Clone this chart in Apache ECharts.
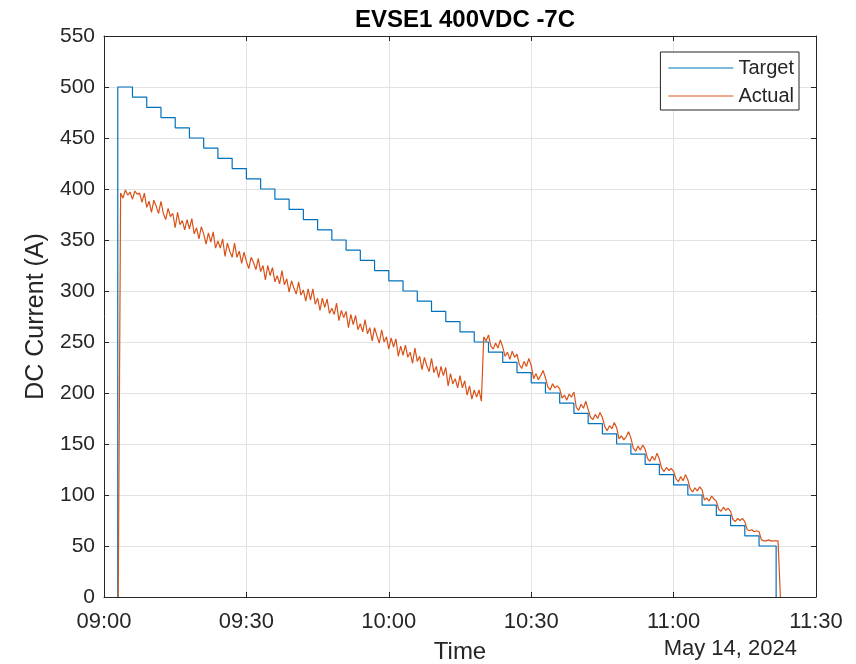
<!DOCTYPE html>
<html>
<head>
<meta charset="utf-8">
<script src="https://cdn.jsdelivr.net/npm/echarts@6/dist/echarts.min.js"></script>
<style>
  html, body { margin: 0; padding: 0; background: #fff; }
  #main { width: 856px; height: 664px; }
</style>
</head>
<body>
<div id="main"></div>
<script>
// minutes after 09:00
const xTicks = [0, 30, 60, 90, 120, 150];

// target current: step points (value holds from that minute on)
const targetMin = [2.9, 2.9, 6, 9, 12, 15, 18, 21, 24, 27, 30, 33, 36, 39, 42, 45, 48, 51, 54, 57, 60,
  63, 66, 69, 72, 75, 78, 81, 84, 87, 90, 93, 96, 99, 102, 105, 108, 111, 114, 117, 120,
  123, 126, 129, 132, 135, 138, 141.6];
const targetAmp = [0, 500, 490, 480, 470, 460, 450, 440, 430, 420, 410, 400, 390, 380, 370, 360, 350,
  340, 330, 320, 310, 300, 290, 280, 270, 260, 250, 240, 230, 220, 210, 200, 190, 180, 170,
  160, 150, 140, 130, 120, 110, 100, 90, 80, 70, 60, 50, 0];

// actual current, sampled every half minute from 09:03
const actualStart = 3.0;
const actualDt = 0.5;
const actualAmp = [
  0,
  396, 391, 399, 394, 397, 390, 398, 395,
  396, 387, 396, 382, 388, 377, 389, 383, 376, 388,
  376, 370, 381, 373, 376, 362, 377, 365, 369, 360,
  370, 361, 371, 356, 362, 351, 363, 356, 346, 357,
  348, 358, 342, 349, 342, 351, 334, 347, 339, 333,
  347, 333, 339, 327, 338, 329, 322, 333, 328, 321,
  332, 319, 325, 311, 325, 315, 323, 309, 315, 307,
  320, 306, 312, 299, 310, 303, 297, 309, 296, 301,
  290, 302, 291, 302, 287, 293, 281, 293, 284, 292,
  278, 283, 277, 288, 271, 281, 274, 280, 264, 277,
  267, 276, 262, 268, 260, 272, 258, 264, 251, 264,
  256, 249, 262, 250, 255, 243, 254, 245, 253, 236,
  246, 237, 247, 235, 240, 229, 244, 231, 236, 223,
  235, 227, 221, 234, 220, 226, 215, 226, 217, 225,
  207, 219, 209, 214, 205, 217, 205, 212, 198, 207,
  194, 203, 196, 203, 192,
  255, 251, 257,
  246, 243, 249, 244, 252, 245,
  236, 240, 233, 241, 235, 238,
  228, 224, 231, 226, 234, 227,
  214, 219, 213, 217, 222, 215,
  206, 203, 209, 205, 207, 204,
  195, 198, 193, 199, 196, 201,
  186, 183, 189, 185, 192, 184,
  176, 174, 179, 175, 181, 176,
  167, 163, 168, 165, 171, 166,
  155, 158, 154, 157, 162, 156,
  146, 143, 148, 144, 149, 145,
  136, 133, 138, 134, 141, 135,
  126, 123, 127, 124, 126, 123,
  116, 113, 118, 114, 120, 115,
  106, 103, 107, 104, 108, 105,
  95, 97, 94, 99, 96, 94,
  86, 84, 88, 85, 87, 84,
  76, 74, 77, 75, 77, 74,
  66, 65, 66, 64, 65, 64,
  56, 55, 55, 56, 55, 55, 55, 55,
  0
];

const FONT = "'Liberation Sans', Arial, sans-serif";
const INK = '#262626';
const GRIDC = '#e3e3e3';

const targetData = targetMin.map((t, i) => [t, targetAmp[i]]);
const actualData = actualAmp.map((v, i) => [actualStart + i * actualDt, v]);

function clock(m) {
  const h = 9 + Math.floor(m / 60);
  const mm = m % 60;
  return String(h).padStart(2, '0') + ':' + String(mm).padStart(2, '0');
}

const tick = { show: true, inside: true, length: 5, lineStyle: { color: INK } };
const boxLine = { show: true, onZero: false, lineStyle: { color: INK, width: 1 } };

const chart = echarts.init(document.getElementById('main'));
chart.setOption({
  animation: false,
  backgroundColor: '#fff',
  title: {
    text: 'EVSE1 400VDC -7C',
    left: 460, top: 3, textAlign: 'center',
    textStyle: { fontFamily: FONT, fontSize: 24, fontWeight: 'bold', color: '#000' }
  },
  legend: {
    orient: 'vertical',
    right: 57, top: 52,
    padding: [6, 5, 4, 8],
    icon: 'rect',
    itemWidth: 65, itemHeight: 1.2, itemGap: 8,
    backgroundColor: '#fff',
    borderColor: INK, borderWidth: 1, borderRadius: 0,
    textStyle: { fontFamily: FONT, fontSize: 20, color: INK, lineHeight: 20 },
    data: ['Target', 'Actual']
  },
  grid: { left: 104, right: 40, top: 36, bottom: 67, outerBoundsMode: 'none', containLabel: false },
  xAxis: [{
    type: 'value', min: 0, max: 150, interval: 30,
    name: 'Time', nameLocation: 'middle', nameGap: 43,
    nameTextStyle: { fontFamily: FONT, fontSize: 24, color: INK },
    axisLine: boxLine,
    axisTick: tick,
    axisLabel: { fontFamily: FONT, fontSize: 22, color: INK, margin: 14,
      formatter: v => xTicks.includes(v) ? clock(v) : '' },
    splitLine: { show: true, lineStyle: { color: GRIDC, width: 1 } }
  }, {
    type: 'value', min: 0, max: 150, interval: 30, position: 'top',
    axisLine: boxLine,
    axisTick: tick,
    axisLabel: { show: false }, splitLine: { show: false }
  }],
  yAxis: [{
    type: 'value', min: 0, max: 550, interval: 50,
    name: 'DC Current (A)', nameLocation: 'middle', nameGap: 51,
    nameTextStyle: { fontFamily: FONT, fontSize: 25, color: INK },
    axisLine: boxLine,
    axisTick: tick,
    axisLabel: { fontFamily: FONT, fontSize: 21, color: INK, margin: 9 },
    splitLine: { show: true, lineStyle: { color: GRIDC, width: 1 } }
  }, {
    type: 'value', min: 0, max: 550, interval: 50, position: 'right',
    axisLine: boxLine,
    axisTick: tick,
    axisLabel: { show: false }, splitLine: { show: false }
  }],
  graphic: [{
    type: 'text', right: 59, top: 638,
    style: { text: 'May 14, 2024', fontFamily: FONT, fontSize: 22, fill: INK }
  }],
  series: [{
    name: 'Target', type: 'line', step: 'end',
    data: targetData, symbol: 'none',
    lineStyle: { color: '#0072BD', width: 1.2 }, itemStyle: { color: '#0072BD' }
  }, {
    name: 'Actual', type: 'line',
    data: actualData, symbol: 'none',
    lineStyle: { color: '#D95319', width: 1.2 }, itemStyle: { color: '#D95319' }
  }]
});
</script>
</body>
</html>
